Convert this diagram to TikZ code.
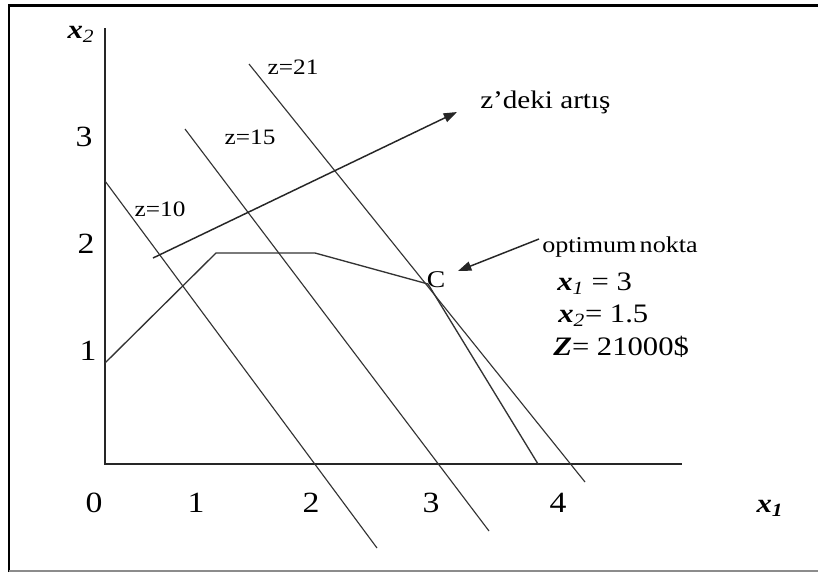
\documentclass[tikz,border=0pt]{standalone}
\usepackage{fontspec}
\setmainfont{Liberation Serif}[FakeStretch=1.15]
\usetikzlibrary{arrows.meta}
\begin{document}
\begin{tikzpicture}[x=0.75pt,y=-0.75pt,
  frameline/.style={line width=1.9pt, black},
  axis/.style={line width=1.2pt, black!85},
  zline/.style={line width=0.85pt, black!80},
  region/.style={line width=1pt, black!80},
  pointer/.style={line width=1.1pt, black!85, -{Triangle[length=10pt,width=7pt]}},
  ticklbl/.style={inner sep=0pt, font=\fontsize{22}{25}\selectfont},
  zlbl/.style={inner sep=0pt, font=\fontsize{16.5}{19}\selectfont},
  axlbl/.style={inner sep=0pt, font=\fontsize{20}{23}\selectfont},
  txt/.style={inner sep=0pt, anchor=base west},
  ]
\useasboundingbox[fill=white] (0,0) rectangle (818,572);
% frame
\draw[frameline] (9,572) -- (9,5.5) -- (818,5.5);
\draw[line width=1.4pt, black!45] (9,571) -- (818,571);
% axes
\coordinate (O) at (105,464);
\coordinate (ytop) at (105,28);
\coordinate (xend) at (682,464);
\draw[axis] (ytop) -- (O) -- (xend);
% feasible region boundary
\coordinate (p0) at (105,363);
\coordinate (p1) at (216,253);
\coordinate (p2) at (315,253);
\coordinate (C) at (428,284);
\coordinate (p4) at (538,464);
\draw[region] (p0) -- (p1) -- (p2) -- (C) -- (p4);
% iso-profit lines
\coordinate (a10) at (105,181);
\coordinate (b10) at (377,548);
\coordinate (a15) at (185,129);
\coordinate (b15) at (489,531);
\coordinate (a21) at (249,64);
\coordinate (b21) at (585,482);
\draw[zline] (a10) -- (b10);
\draw[zline] (a15) -- (b15);
\draw[zline] (a21) -- (b21);
% labels
\node[axlbl] (lx2) at (81,34) {\textbf{\textit{x}}\textsubscript{\textit{2}}};
\node[axlbl] (lx1) at (770,508) {\textbf{\textit{x\textsubscript{1}}}};
\node[ticklbl] (t0) at (94,503) {0};
\node[ticklbl] (t1) at (196,503) {1};
\node[ticklbl] (t2) at (311,503) {2};
\node[ticklbl] (t3) at (431,503) {3};
\node[ticklbl] (t4) at (558,503) {4};
\node[ticklbl] (s3) at (84,137) {3};
\node[ticklbl] (s2) at (86,244) {2};
\node[ticklbl] (s1) at (88,351) {1};
\node[zlbl] (l21) at (293,67) {z=21};
\node[zlbl] (l15) at (250,137) {z=15};
\node[zlbl] (l10) at (160,209) {z=10};
% increase arrow
\coordinate (incs) at (153,258);
\coordinate (ince) at (457,112);
\draw[pointer] (incs) -- (ince);
\node[txt, font=\fontsize{19}{22}\selectfont] (inc) at (480,108) {z’deki artış};
% optimum
\node[inner sep=0pt, font=\fontsize{18}{20}\selectfont] (lC) at (436,280) {C};
\node[txt, font=\fontsize{17}{20}\selectfont] (opt) at (542,252) {optimum\hspace{2.5pt}nokta};
\coordinate (opts) at (539,239);
\coordinate (optt) at (458,271);
\draw[pointer] (opts) -- (optt);
\node[txt, font=\fontsize{20}{23}\selectfont] (r1) at (557,290) {\textbf{\textit{x}}\textsubscript{\textit{1}} = 3};
\node[txt, font=\fontsize{20}{23}\selectfont] (r2) at (558,322) {\textbf{\textit{x}}\textsubscript{\textit{2}}= 1.5};
\node[txt, font=\fontsize{20}{23}\selectfont] (r3) at (553,355) {\textbf{\textit{Z}}= 21000\$};
\end{tikzpicture}
\end{document}
